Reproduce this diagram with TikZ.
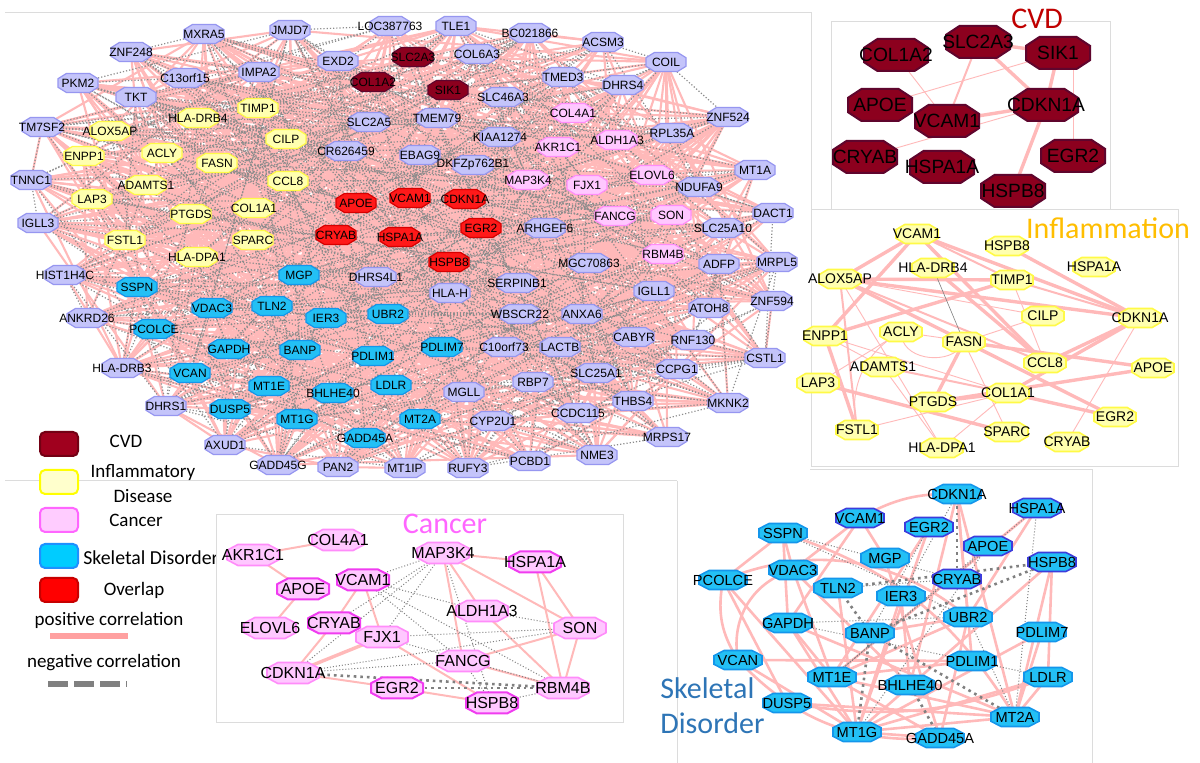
\documentclass[tikz,border=0pt]{standalone}
\usepackage{fontspec}
\newfontfamily\arial{Liberation Sans}
\newfontfamily\calib{Carlito}
\pgfdeclarelayer{bglayer}
\pgfdeclarelayer{panellayer}
\pgfdeclarelayer{edgelayer}
\pgfdeclarelayer{shapelayer}
\pgfsetlayers{bglayer,panellayer,edgelayer,shapelayer,main}
\definecolor{lavF}{RGB}{196,196,250}
\definecolor{lavD}{RGB}{150,150,240}
\definecolor{yelF}{RGB}{255,255,175}
\definecolor{yelD}{RGB}{255,250,70}
\definecolor{pnkF}{RGB}{255,200,255}
\definecolor{pnkD}{RGB}{255,140,250}
\definecolor{pnkDD}{RGB}{240,60,240}
\definecolor{cynF}{RGB}{35,192,245}
\definecolor{cynD}{RGB}{20,150,235}
\definecolor{cynDD}{RGB}{60,60,220}
\definecolor{cvdF}{RGB}{140,0,30}
\definecolor{cvdD}{RGB}{95,5,45}
\definecolor{ovlF}{RGB}{255,25,25}
\definecolor{ovlD}{RGB}{215,0,0}
\definecolor{posE}{RGB}{255,185,185}
\definecolor{negE}{RGB}{128,128,128}
\definecolor{negM}{RGB}{140,140,140}
\definecolor{panelL}{RGB}{220,220,220}
\newcommand\oct[5]{\filldraw[#1,shift={(#2,#3)}] (-#4,-0.45*#5)--(-0.58*#4,-#5)--(0.58*#4,-#5)--(#4,-0.45*#5)--(#4,0.45*#5)--(0.58*#4,#5)--(-0.58*#4,#5)--(-#4,0.45*#5)--cycle;}
\newcommand\gn[7]{\node[gtxt] (#1) at (#2,#3) {\makebox[0pt]{#4}};\begin{pgfonlayer}{shapelayer}\oct{#5}{#2}{#3}{#6}{#7}\end{pgfonlayer}}
\def\gfont{\arial\fontsize{6}{7}\selectfont}
\tikzset{
  gtxt/.style={inner sep=0pt, font=\gfont, text=black},
  lav/.style={fill=lavF, draw=lavD, line width=0.6pt},
  yel/.style={fill=yelF, draw=yelD, line width=0.6pt},
  pnk/.style={fill=pnkF, draw=pnkD, line width=0.6pt},
  cyn/.style={fill=cynF, draw=cynD, line width=0.6pt},
  cvd/.style={fill=cvdF, draw=cvdD, line width=0.6pt},
  ovl/.style={fill=ovlF, draw=ovlD, line width=0.6pt},
  cvdB/.style={fill=cvdF, draw=cvdD, line width=1pt},
  infl/.style={fill=yelF, draw=yelD, line width=0.8pt},
  cnA/.style={fill=pnkF, draw=pnkD, line width=0.8pt},
  cnB/.style={fill=pnkF, draw=pnkDD, line width=1pt},
  skA/.style={fill=cynF, draw=cynD, line width=0.8pt},
  skB/.style={fill=cynF, draw=cynDD, line width=0.8pt},
  mpos/.style={draw=posE, line width=1.05pt},
  mneg/.style={draw=negM, line width=0.6pt, dash pattern=on 0.6pt off 1pt},
  pkthin/.style={draw=posE, line width=0.45pt},
  pkmed/.style={draw=posE, line width=1pt},
  pkthick/.style={draw=posE, line width=1.7pt},
  dotthin/.style={draw=negE, line width=0.5pt, dash pattern=on 0.5pt off 1pt},
  dotthick/.style={draw=negE, line width=1.3pt, dash pattern=on 1.3pt off 2pt},
  paneline/.style={draw=panelL, line width=0.5pt},
  lgbox/.style={rounded corners=2.5pt, minimum width=19pt, minimum height=12pt, line width=1pt, inner sep=0pt},
  lgtxt/.style={font=\calib\fontsize{9.5}{11}\selectfont, inner sep=0pt},
  ttl/.style={font=\calib\fontsize{15}{17}\selectfont, inner sep=0pt}
}
\begin{document}
\begin{tikzpicture}[x=0.5pt,y=-0.5pt]
\useasboundingbox (0,0) rectangle (1200,763);
\begin{pgfonlayer}{bglayer}
\fill[white] (0,0) rectangle (1200,763);
\draw[paneline] (5,13) -- (811,13) -- (811,210);
\draw[paneline] (5,481) -- (677,481);
\draw[paneline] (677,481) -- (677,763);
\draw[paneline] (810,470) -- (1092,470) -- (1092,763);
% legend
\node[lgbox, fill={rgb,255:red,160;green,0;blue,30}, draw={rgb,255:red,115;green,0;blue,20}] (L-cvd) at (59,444) {};
\node[lgbox, fill={rgb,255:red,255;green,255;blue,204}, draw={rgb,255:red,255;green,255;blue,0}] (L-inf) at (59,482) {};
\node[lgbox, fill={rgb,255:red,255;green,204;blue,255}, draw={rgb,255:red,255;green,102;blue,255}] (L-can) at (59,520) {};
\node[lgbox, fill={rgb,255:red,0;green,204;blue,255}, draw={rgb,255:red,30;green,144;blue,255}] (L-ske) at (59,556) {};
\node[lgbox, fill={rgb,255:red,255;green,0;blue,0}, draw={rgb,255:red,200;green,0;blue,0}] (L-ovl) at (59,590) {};
\node[lgtxt] (T-cvd) at (126,441) {CVD};
\node[lgtxt] (T-inf1) at (143,472) {Inflammatory};
\node[lgtxt] (T-inf2) at (143,496) {Disease};
\node[lgtxt] (T-can) at (136,520) {Cancer};
\node[lgtxt, anchor=west, font=\calib\fontsize{9.9}{11}\selectfont] (T-ske) at (83,558) {Skeletal Disorder};
\node[lgtxt] (T-ovl) at (134,590) {Overlap};
\node[lgtxt] (T-pos) at (109,620) {positive correlation};
\node[lgtxt] (T-neg) at (104,663) {negative correlation};
\coordinate (P1) at (50,636); \coordinate (P2) at (128,636);
\draw[draw={rgb,255:red,255;green,160;blue,160}, line width=3pt] (P1) -- (P2);
\coordinate (N1) at (48,684); \coordinate (N2) at (127,684);
\draw[draw=negE, line width=3pt, dash pattern=on 10pt off 3pt] (N1) -- (N2);
\end{pgfonlayer}
\begin{pgfonlayer}{panellayer}
\filldraw[paneline, fill=white] (831,22) rectangle (1110,215);
\filldraw[paneline, fill=white] (811,210) rectangle (1178,467);
\filldraw[paneline, fill=white] (216,515) rectangle (623,723);
\end{pgfonlayer}
% ================= main network =================
\foreach \i/\x/\y/\t/\s in {1/204/34/MXRA5/lav,2/290/30/JMJD7/lav,3/390/26/LOC387763/lav,4/131/52/ZNF248/lav,5/338/61/EXD2/lav,6/185/78/C13orf15/lav,7/259/72/IMPA2/lav,8/373/82/COL1A2/cvd,9/78/83/PKM2/lav,10/136/97/TKT/lav,11/258/108/TIMP1/yel,12/198/118/HLA-DRB4/yel,13/369/122/SLC2A5/lav,14/42/127/TM7SF2/lav,15/110/131/ALOX5AP/yel,16/286/139/CILP/yel,17/346/151/CR626459/lav,18/84/156/ENPP1/yel,19/162/153/ACLY/yel,20/217/163/FASN/yel,21/31/180/TNNC1/lav,22/146/185/ADAMTS1/yel,23/288/181/CCL8/yel,24/92/199/LAP3/yel,25/191/214/PTGDS/yel,26/254/208/COL1A1/yel,27/356/203/APOE/ovl,28/38/223/IGLL3/lav,29/125/240/FSTL1/yel,30/253/240/SPARC/yel,31/336/235/CRYAB/ovl,32/456/26/TLE1/lav,33/530/33/BC021866/lav,34/603/42/ACSM3/lav,35/413/57/SLC2A3/cvd,36/477/54/COL6A3/lav,37/666/62/COIL/lav,38/563/77/TMED3/lav,39/623/85/DHRS4/lav,40/448/90/SIK1/cvd,41/503/97/SLC46A3/lav,42/437/118/TMEM79/lav,43/573/113/COL4A1/pnk,44/728/117/ZNF524/lav,45/500/137/KIAA1274/lav,46/558/147/AKR1C1/pnk,47/617/140/ALDH1A3/pnk,48/672/133/RPL35A/lav,49/420/155/EBAG9/lav,50/473/165/DKFZp762B1/lav,51/528/180/MAP3K4/pnk,52/587/185/FJX1/pnk,53/652/175/ELOVL6/pnk,54/755/170/MT1A/lav,55/699/187/NDUFA9/lav,56/410/198/VCAM1/ovl,57/465/199/CDKN1A/ovl,58/615/216/FANCG/pnk,59/671/215/SON/pnk,60/773/213/DACT1/lav,61/481/228/EGR2/ovl,62/545/228/ARHGEF6/lav,63/723/228/SLC25A10/lav,64/400/237/HSPA1A/ovl,65/449/262/HSPB8/ovl,66/299/275/MGP/cyn,67/376/277/DHRS4L1/lav,68/450/293/HLA-H/lav,69/517/283/SERPINB1/lav,70/520/314/WBSCR22/lav,71/272/306/TLN2/cyn,72/326/318/IER3/cyn,73/388/314/UBR2/cyn,74/197/257/HLA-DPA1/yel,75/65/275/HIST1H4C/lav,76/137/287/SSPN/cyn,77/212/308/VDAC3/cyn,78/87/318/ANKRD26/lav,79/154/329/PCOLCE/cyn,80/229/349/GAPDH/cyn,81/300/350/BANP/cyn,82/373/356/PDLIM1/cyn,83/122/368/HLA-DRB3/lav,84/190/373/VCAN/cyn,85/269/386/MT1E/cyn,86/333/393/BHLHE40/cyn,87/391/385/LDLR/cyn,88/166/406/DHRS1/lav,89/230/409/DUSP5/cyn,90/297/419/MT1G/cyn,91/365/438/GADD45A/cyn,92/225/445/AXUD1/lav,93/278/465/GADD45G/lav,94/338/467/PAN2/lav,95/405/468/MT1IP/lav,96/663/254/RBM4B/pnk,97/589/263/MGC70863/lav,98/719/264/ADFP/lav,99/777/262/MRPL5/lav,100/654/291/IGLL1/lav,101/709/308/ATOH8/lav,102/772/301/ZNF594/lav,103/582/314/ANXA6/lav,104/634/337/CABYR/lav,105/693/340/RNF130/lav,106/442/347/PDLIM7/cyn,107/504/347/C10orf73/lav,108/560/347/LACTB/lav,109/765/358/CSTL1/lav,110/596/373/SLC25A1/lav,111/677/369/CCPG1/lav,112/533/382/RBP7/lav,113/464/392/MGLL/lav,114/633/401/THBS4/lav,115/728/403/MKNK2/lav,116/420/419/MT2A/cyn,117/493/421/CYP2U1/lav,118/578/413/CCDC115/lav,119/667/437/MRPS17/lav,120/597/455/NME3/lav,121/530/461/PCBD1/lav,122/468/468/RUFY3/lav}{
  \gn{M\i}{\x}{\y}{\t}{\s}{20}{9.5}
}
\pgfmathsetseed{7}
\begin{pgfonlayer}{edgelayer}
\foreach \i in {1,...,122}{
  \foreach \k in {1,...,9}{
    \pgfmathrandominteger{\j}{1}{122}
    \ifnum\j=\i\relax\else\draw[mpos] (M\i) -- (M\j);\fi
  }
}
\foreach \i in {1,...,122}{
  \foreach \k in {1,2}{
    \pgfmathrandominteger{\j}{1}{122}
    \ifnum\j=\i\relax\else\draw[mneg] (M\i) -- (M\j);\fi
  }
  \foreach \k in {2,6}{
    \pgfmathtruncatemacro{\j}{mod(\i+\k,122)+1}
    \draw[mneg] (M\i) -- (M\j);
  }
}
\end{pgfonlayer}
% ================= CVD panel =================
\node[ttl, text={rgb,255:red,192;green,0;blue,0}] (T-CVD) at (1037,19) {CVD};
\def\gfont{\arial\fontsize{9.6}{11}\selectfont}
\gn{C-COL1A2}{896}{55}{COL1A2}{cvdB}{32}{16}
\gn{C-SLC2A3}{978}{42}{SLC2A3}{cvdB}{32}{16}
\gn{C-SIK1}{1058}{53}{SIK1}{cvdB}{32}{16}
\gn{C-APOE}{880}{105}{APOE}{cvdB}{32}{16}
\gn{C-VCAM1}{947}{121}{VCAM1}{cvdB}{32}{16}
\gn{C-CDKN1A}{1046}{105}{CDKN1A}{cvdB}{32}{16}
\gn{C-CRYAB}{865}{157}{CRYAB}{cvdB}{32}{16}
\gn{C-HSPA1A}{942}{167}{HSPA1A}{cvdB}{32}{16}
\gn{C-EGR2}{1073}{156}{EGR2}{cvdB}{32}{16}
\gn{C-HSPB8}{1013}{191}{HSPB8}{cvdB}{32}{16}
\begin{pgfonlayer}{edgelayer}
\foreach \a/\b in {SLC2A3/SIK1,SLC2A3/CDKN1A,SIK1/CDKN1A,VCAM1/CDKN1A,CDKN1A/HSPB8}\draw[pkthick] (C-\a) -- (C-\b);
\draw[pkmed] (C-SLC2A3) -- (C-VCAM1);
\foreach \a/\b in {SIK1/APOE,COL1A2/VCAM1,CDKN1A/CRYAB}\draw[pkthin] (C-\a) -- (C-\b);
\draw[pkthin] (C-SIK1.east) ++(14,0) coordinate (cs1) -- (cs1 |- C-EGR2) coordinate (cs2);
\end{pgfonlayer}
% ================= Inflammation panel =================
\node[ttl, text={rgb,255:red,255;green,190;blue,0}] (T-INF) at (1108,228) {Inflammation};
\def\gfont{\arial\fontsize{7}{8}\selectfont}
\foreach \n/\x/\y in {VCAM1/917/234,HSPB8/1007/246,HSPA1A/1094/267,HLA-DRB4/933/268,ALOX5AP/840/279,TIMP1/1012/280,CILP/1043/316,CDKN1A/1140/318,ENPP1/825/336,ACLY/901/332,FASN/964/342,CCL8/1045/363,ADAMTS1/883/367,APOE/1153/368,LAP3/818/383,COL1A1/1008/393,PTGDS/933/402,EGR2/1115/417,FSTL1/857/430,SPARC/1007/432,CRYAB/1067/442,HLA-DPA1/942/448}{
  \gn{I-\n}{\x}{\y}{\n}{infl}{21}{9.5}
}
\begin{pgfonlayer}{edgelayer}
\foreach \a/\b in {VCAM1/ALOX5AP,VCAM1/ENPP1,VCAM1/CDKN1A,VCAM1/CCL8,HSPB8/CDKN1A,ALOX5AP/TIMP1,ALOX5AP/CDKN1A,ALOX5AP/EGR2,HLA-DRB4/CCL8,TIMP1/ENPP1,CDKN1A/CCL8,CDKN1A/COL1A1,ENPP1/FSTL1,FASN/APOE,FASN/PTGDS,LAP3/SPARC,PTGDS/APOE,PTGDS/COL1A1,COL1A1/EGR2}\draw[pkthick] (I-\a) -- (I-\b);
\foreach \a/\b in {VCAM1/TIMP1,TIMP1/CDKN1A,ALOX5AP/CCL8,ALOX5AP/FSTL1,ADAMTS1/COL1A1}\draw[pkmed] (I-\a) -- (I-\b);
\foreach \a/\b in {ALOX5AP/CILP,ALOX5AP/HLA-DPA1,TIMP1/CCL8,CDKN1A/CRYAB,ENPP1/COL1A1,ACLY/LAP3,FASN/CILP,FASN/SPARC,ADAMTS1/HLA-DPA1,COL1A1/HLA-DPA1,FSTL1/COL1A1,ENPP1/ADAMTS1,ACLY/APOE}\draw[pkthin] (I-\a) -- (I-\b);
\draw[pkthin] (I-ACLY) to[out=-80,in=-120] (I-FASN);
\draw[pkthin] (I-ACLY) to[bend right=35] (I-FSTL1);
\draw[draw=gray, line width=0.3pt] (I-HLA-DRB4) -- (I-FASN);
\end{pgfonlayer}
% ================= Cancer panel =================
\node[ttl, text={rgb,255:red,255;green,102;blue,255}] (T-CAN) at (445,524) {Cancer};
\def\gfont{\arial\fontsize{8}{9}\selectfont}
\foreach \n/\x/\y/\s in {COL4A1/338/540/cnA,AKR1C1/253/555/cnA,MAP3K4/443/553/cnA,HSPA1A/535/562/cnB,VCAM1/363/580/cnB,APOE/303/589/cnB,ALDH1A3/482/611/cnA,CRYAB/334/623/cnB,ELOVL6/270/628/cnA,FJX1/382/637/cnA,SON/580/628/cnA,FANCG/463/661/cnA,CDKN1A/293/673/cnA,RBM4B/563/688/cnA,EGR2/397/688/cnB,HSPB8/492/703/cnB}{
  \gn{K-\n}{\x}{\y}{\n}{\s}{26}{10.5}
}
\begin{pgfonlayer}{edgelayer}
\foreach \a/\b in {AKR1C1/COL4A1,AKR1C1/APOE,APOE/ELOVL6,MAP3K4/HSPA1A,MAP3K4/ALDH1A3,MAP3K4/SON,MAP3K4/FANCG,HSPA1A/SON,HSPA1A/RBM4B,SON/RBM4B,SON/FANCG,ALDH1A3/RBM4B,VCAM1/CRYAB,VCAM1/FJX1,CRYAB/CDKN1A,FJX1/HSPB8,CDKN1A/EGR2,EGR2/HSPB8,FANCG/RBM4B}\draw[pkmed] (K-\a) -- (K-\b);
\draw[pkthick] (K-FJX1) -- (K-CDKN1A);
\foreach \a/\b in {VCAM1/MAP3K4,VCAM1/ALDH1A3,VCAM1/RBM4B,VCAM1/FANCG,MAP3K4/CDKN1A,MAP3K4/HSPB8,MAP3K4/FJX1,ALDH1A3/SON,FJX1/SON,FJX1/RBM4B,CDKN1A/SON,CDKN1A/FANCG,HSPB8/RBM4B,FANCG/HSPB8,CRYAB/MAP3K4}\draw[dotthin] (K-\a) -- (K-\b);
\foreach \a/\b in {CDKN1A/RBM4B,EGR2/RBM4B}\draw[dotthick] (K-\a) -- (K-\b);
\end{pgfonlayer}
% ================= Skeletal panel =================
\node[ttl, text={rgb,255:red,46;green,117;blue,182}, anchor=west] (T-SK1) at (660,688) {Skeletal};
\node[ttl, text={rgb,255:red,46;green,117;blue,182}, anchor=west] (T-SK2) at (660,723) {Disorder};
\def\gfont{\arial\fontsize{7.3}{8.5}\selectfont}
\foreach \n/\x/\y/\s in {CDKN1A/957/494/skA,VCAM1/860/518/skB,HSPA1A/1037/508/skB,EGR2/929/527/skB,SSPN/783/533/skA,APOE/988/546/skB,MGP/885/558/skA,HSPB8/1052/562/skB,PCOLCE/723/580/skA,VDAC3/793/570/skA,CRYAB/957/579/skB,TLN2/838/588/skA,IER3/901/596/skA,UBR2/968/617/skA,GAPDH/788/623/skA,PDLIM7/1042/632/skA,BANP/870/633/skA,VCAN/738/660/skA,PDLIM1/972/661/skA,MT1E/832/677/skA,LDLR/1048/677/skA,BHLHE40/910/685/skA,DUSP5/787/703/skA,MT2A/1015/717/skA,MT1G/857/732/skA,GADD45A/940/738/skA}{
  \gn{S-\n}{\x}{\y}{\n}{\s}{24}{9.5}
}
\begin{pgfonlayer}{edgelayer}
\foreach \a/\b in {CDKN1A/UBR2,CDKN1A/PDLIM1,CDKN1A/BHLHE40,CDKN1A/MT2A,HSPA1A/UBR2,HSPA1A/MT1E,HSPB8/MT2A,HSPB8/LDLR,HSPB8/MT1G,VCAM1/VDAC3,VCAM1/GAPDH,VCAM1/MGP,SSPN/PCOLCE,SSPN/VDAC3,SSPN/GAPDH,PCOLCE/MT1G,PCOLCE/DUSP5,GAPDH/MT1E,GAPDH/MT1G,GAPDH/MT2A,VDAC3/MT1E,VDAC3/BHLHE40,EGR2/MT1E,TLN2/MT1G,IER3/MT1G,IER3/BHLHE40,BANP/UBR2,UBR2/MT1E,UBR2/GADD45A,PDLIM1/MT1E,MT1E/MT2A,MT1E/GADD45A,MT1G/MT2A,MT1G/LDLR,MT1G/GADD45A,DUSP5/MT2A,VCAN/MT1G,LDLR/MT2A,PDLIM7/MT2A,MGP/GADD45A,EGR2/MT1G,PDLIM7/MT1G,VCAN/PDLIM1}\draw[pkmed, line width=1.3pt] (S-\a) -- (S-\b);
\draw[pkmed, line width=1.3pt] (S-CDKN1A) to[bend right=15] (S-VCAM1);
\draw[pkmed, line width=1.3pt] (S-PCOLCE) to[bend right=20] (S-VCAN);
\draw[pkmed, line width=1.3pt] (S-VCAN) to[bend right=25] (S-GADD45A);
\draw[pkmed, line width=1.3pt] (S-SSPN) to[bend left=20] (S-MT2A);
\draw[pkmed, line width=1.3pt] (S-PCOLCE) to[bend left=30] (S-UBR2);
\draw[pkmed, line width=1.3pt] (S-DUSP5) to[bend right=15] (S-LDLR);
\draw[pkmed, line width=1.3pt] (S-VCAN) to[bend left=40] (S-VDAC3);
\foreach \a/\b in {CDKN1A/CRYAB,TLN2/HSPB8,BANP/HSPB8,TLN2/BANP,BANP/MT1G,BANP/MT2A,BHLHE40/GADD45A}\draw[dotthick] (S-\a) -- (S-\b);
\foreach \a/\b in {MT1E/HSPA1A,GAPDH/UBR2,SSPN/CRYAB,SSPN/UBR2,PDLIM1/LDLR,HSPA1A/MT2A,UBR2/MT2A,APOE/MT1E,EGR2/BANP,CDKN1A/IER3,TLN2/CRYAB,MT1G/APOE,GAPDH/PDLIM1}\draw[dotthin] (S-\a) -- (S-\b);
\end{pgfonlayer}
\end{tikzpicture}
\end{document}
